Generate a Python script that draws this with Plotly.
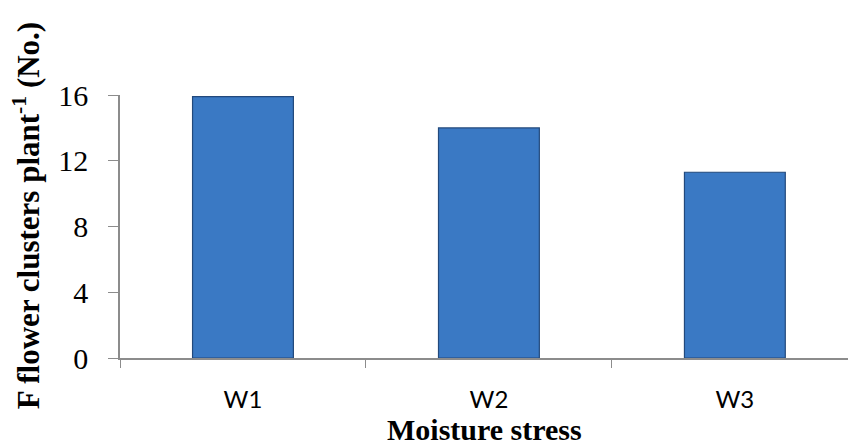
import plotly.graph_objects as go

categories = ["W1", "W2", "W3"]
values = [15.9, 14.0, 11.3]
y_ticks = [0, 4, 8, 12, 16]

fig = go.Figure()
fig.add_trace(go.Bar(
    x=categories, y=values,
    marker=dict(color="#3a79c4", line=dict(color="#22497c", width=1.2)),
    width=0.41,
))

fig.update_layout(
    width=848, height=446,
    margin=dict(l=120, r=0, t=95, b=88),
    paper_bgcolor="white", plot_bgcolor="white",
    showlegend=False,
    xaxis=dict(
        range=[-0.5, 2.46],
        showline=True, linecolor="#8c8c8c", linewidth=1.5,
        ticks="outside", tickson="boundaries", ticklen=8, tickcolor="#8c8c8c", tickwidth=1.3,
        tickfont=dict(family="Lato, Open Sans", size=24, color="black"),
        ticklabelstandoff=19,
        showgrid=False, zeroline=False,
    ),
    yaxis=dict(
        range=[0, 16],
        tickvals=y_ticks,
        showline=True, linecolor="#8c8c8c", linewidth=1.5,
        ticks="outside", ticklen=10, tickcolor="#8c8c8c", tickwidth=1.3,
        tickfont=dict(family="Liberation Serif, Times New Roman", size=30, color="black"),
        ticklabelstandoff=14,
        showgrid=False, zeroline=False,
    ),
    annotations=[
        dict(text="<b>Moisture stress</b>", x=0.5, xref="paper", y=0, yref="paper",
             yshift=-71, xanchor="center", yanchor="middle", showarrow=False,
             font=dict(family="Liberation Serif, Times New Roman", size=30, color="black")),
        dict(text="<b>F flower clusters plant<sup>-1</sup> (No.)</b>", x=0, xref="paper",
             y=0.539, yref="paper", xshift=-94, textangle=-90, xanchor="center",
             yanchor="middle", showarrow=False,
             font=dict(family="Liberation Serif, Times New Roman", size=31, color="black")),
    ],
)

fig.write_html("out.html")
